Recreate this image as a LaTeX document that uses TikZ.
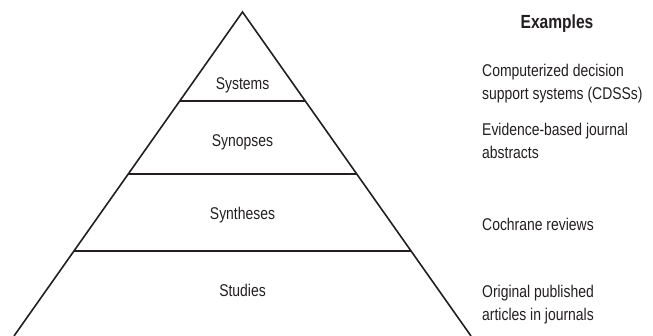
\documentclass[tikz,border=0pt]{standalone}
\usepackage{fontspec}
\setmainfont{Liberation Sans}[FakeStretch=0.82]
\usetikzlibrary{calc}
\definecolor{ink}{HTML}{231F20}

\begin{document}
\begin{tikzpicture}[x=1pt, y=-1pt,
    edge/.style={draw=ink, line width=1.6pt},
    tier/.style={font=\fontsize{17}{23}\selectfont, text=ink, anchor=base, inner sep=0pt},
    example/.style={font=\fontsize{17}{23}\selectfont, text=ink, anchor=base west,
                    align=left, inner sep=0pt},
    head/.style={font=\fontsize{19}{22}\selectfont\bfseries, text=ink, anchor=base, inner sep=0pt},
]
\useasboundingbox (0,0) rectangle (653,336);
% pyramid outline, open at the bottom
\coordinate (apex) at (242.5,12);
\coordinate (bl) at (14,336);
\coordinate (br) at (471,336);
\draw[edge] (bl) -- (apex) -- (br);
% tier dividers
\foreach \t in {0.2747,0.5,0.7377} {
    \draw[edge] ($(apex)!\t!(bl)$) -- ($(apex)!\t!(br)$);
}
\node[tier] (systems)   at (242.5,90)  {Systems};
\node[tier] (synopses)  at (242.5,147) {Synopses};
\node[tier] (syntheses) at (242.5,220) {Syntheses};
\node[tier] (studies)   at (242.5,297) {Studies};
% example column (base = last line)
\node[head] (examples) at (557,29) {Examples};
\node[example] (cdss)      at (482,100) {Computerized decision\\support systems (CDSSs)};
\node[example] (abstracts) at (482,159) {Evidence-based journal\\abstracts};
\node[example] (cochrane)  at (482,231) {Cochrane reviews};
\node[example] (original)  at (482,321) {Original published\\articles in journals};
\end{tikzpicture}
\end{document}
